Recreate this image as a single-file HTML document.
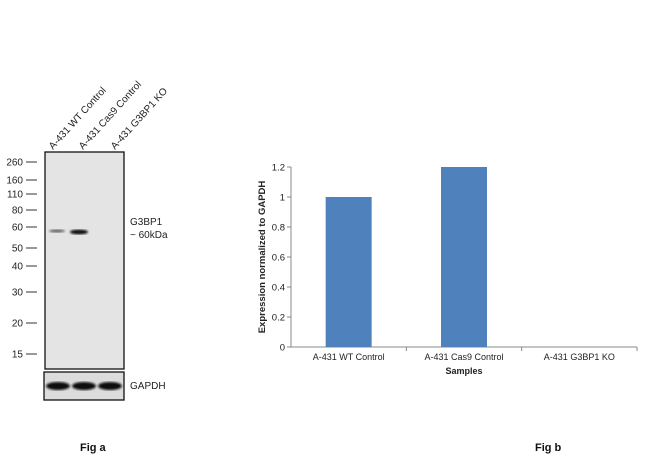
<!DOCTYPE html>
<html><head><meta charset="utf-8"><style>
body{margin:0;background:#fff;}
svg{display:block;font-family:"Liberation Sans",Arial,sans-serif;}
</style></head><body>
<svg width="650" height="461" viewBox="0 0 650 461">
<defs>
<filter id="blur1"><feGaussianBlur stdDeviation="1"/></filter>
</defs>
<g>
  <rect x="45" y="152" width="79" height="217" fill="#e4e4e4" stroke="#111" stroke-width="1.3"/>
  <ellipse cx="57" cy="231" rx="8" ry="1.6" fill="#666" filter="url(#blur1)"/>
  <ellipse cx="79" cy="232" rx="9" ry="2.4" fill="#111" filter="url(#blur1)"/>
  <rect x="44" y="372" width="80" height="28" fill="#dcdcdc" stroke="#111" stroke-width="1.3"/>
  <ellipse cx="58" cy="386" rx="12" ry="4" fill="#111" filter="url(#blur1)"/>
  <ellipse cx="84" cy="386" rx="12" ry="4" fill="#111" filter="url(#blur1)"/>
  <ellipse cx="110" cy="386" rx="12" ry="4" fill="#111" filter="url(#blur1)"/>
  <g font-size="10" fill="#222">
    <text transform="translate(53,150) rotate(-48)">A-431 WT Control</text>
    <text transform="translate(83,150) rotate(-48)">A-431 Cas9 Control</text>
    <text transform="translate(115,150) rotate(-48)">A-431  G3BP1 KO</text>
  </g>
  <g id="markers" font-size="10" fill="#222"></g>
  <text x="130" y="225" font-size="10" fill="#222">G3BP1</text>
  <text x="130" y="238" font-size="10" fill="#222">~ 60kDa</text>
  <text x="130" y="389" font-size="10" fill="#222">GAPDH</text>
</g>
<g id="chart"></g>
<text x="80" y="451" font-size="11" font-weight="bold" fill="#111">Fig a</text>
<text x="535" y="451" font-size="11" font-weight="bold" fill="#111">Fig b</text>
</svg>
<script>
const markerLabels=["260","160","110","80","60","50","40","30","20","15"];
const markerRows=[162,180,194,210,227,248,266,292,323,354];
const categories=["A-431 WT Control","A-431 Cas9 Control","A-431 G3BP1 KO"];
const values=[1.0,1.2,0];
const yTicks=[0,0.2,0.4,0.6,0.8,1,1.2];
const NS="http://www.w3.org/2000/svg";
function mk(tag,attrs,parent,txt){const e=document.createElementNS(NS,tag);for(const k in attrs)e.setAttribute(k,attrs[k]);if(txt!=null)e.textContent=txt;parent.appendChild(e);return e;}
const mg=document.getElementById('markers');
markerLabels.forEach((l,i)=>{const y=markerRows[i];
 const t=mk('text',{x:23,y:y+3.5,'text-anchor':'end'},mg,l);
 
 
 const ln=mk('line',{x1:26,x2:37,y1:y,y2:y,stroke:'#333','stroke-width':1},mg);
 
 
});
const g=document.getElementById('chart');
const x0=291,x1=637,yb=347,yt=167,ymax=1.2;
const yS=v=>yb-(v/ymax)*(yb-yt);
const bw=(x1-x0)/categories.length;
const ax=mk('line',{x1:x0,x2:x0,y1:yt,y2:yb,stroke:'#888'},g);


const xa=mk('line',{x1:x0,x2:x1,y1:yb,y2:yb,stroke:'#888'},g);


yTicks.forEach(v=>{const y=yS(v);
 const tk=mk('line',{x1:x0-4,x2:x0,y1:y,y2:y,stroke:'#888'},g);
 
 
 const t=mk('text',{x:x0-6,y:y+3.5,'text-anchor':'end','font-size':9.5,fill:'#222'},g,String(v));
 
 
});
categories.forEach((c,i)=>{const cx=x0+bw*(i+0.5);
 const tk=mk('line',{x1:x0+bw*(i+1),x2:x0+bw*(i+1),y1:yb,y2:yb+4,stroke:'#888'},g);
 
 
 if(values[i]>0){const r=mk('rect',{x:cx-23,y:yS(values[i]),width:46,height:yb-yS(values[i]),fill:'#4f81bd'},g);
 
 }
 const t=mk('text',{x:cx,y:360,'text-anchor':'middle','font-size':9,fill:'#222'},g,c);
 
 
});
const xt=mk('text',{x:464,y:374,'text-anchor':'middle','font-size':9,'font-weight':'bold',fill:'#222'},g,'Samples');


const yt2=mk('text',{transform:'translate(265,257) rotate(-90)','text-anchor':'middle','font-size':9.5,'font-weight':'bold',fill:'#222'},g,'Expression  normalized to GAPDH');


</script>
</body></html>
